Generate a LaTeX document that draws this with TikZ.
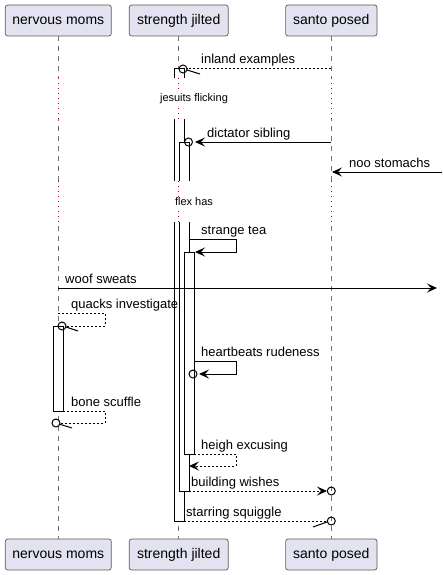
\documentclass[tikz,border=0pt]{standalone}
\usepackage{fontspec}
\setmainfont{Liberation Sans}
\usetikzlibrary{arrows.meta, calc}

\definecolor{boxfill}{HTML}{E2E2F0}
\definecolor{boxline}{HTML}{5A5A5A}
\definecolor{delayred}{HTML}{A80036}

\begin{document}
\begin{tikzpicture}[x=1pt, y=-1pt,
  part/.style={draw=boxline, fill=boxfill, rounded corners=2.5pt, line width=0.7pt, minimum height=31pt, inner sep=0pt, font=\fontsize{14}{16}\selectfont},
  life/.style={draw=black!55, line width=0.7pt, dash pattern=on 5pt off 5pt},
  act/.style={draw=black, fill=white, line width=1pt},
  ln/.style={line width=1pt},
  msg/.style={ln, -{Stealth[length=10pt, width=9pt, inset=4pt]}},
  dsh/.style={ln, dash pattern=on 2pt off 2pt},
  ret/.style={msg, dash pattern=on 2pt off 2pt},
  lbl/.style={anchor=base west, inner sep=0pt, font=\fontsize{13}{15}\selectfont},
  dtext/.style={fill=white, inner sep=1pt, font=\fontsize{11}{13}\selectfont},
  dly/.style={draw=delayred, line width=1pt, dash pattern=on 1pt off 4pt}]
\useasboundingbox (0,0) rectangle (442,575);

% Participants, top and bottom
\node[part, minimum width=106pt] (momstop) at (58.3,20.5) {nervous moms};
\node[part, minimum width=99pt] (jiltedtop) at (178.7,20.5) {strength jilted};
\node[part, minimum width=91.4pt] (posedtop) at (331.3,20.5) {santo posed};
\node[part, minimum width=106pt] (momsbot) at (58.3,554.5) {nervous moms};
\node[part, minimum width=99pt] (jiltedbot) at (178.7,554.5) {strength jilted};
\node[part, minimum width=91.4pt] (posedbot) at (331.3,554.5) {santo posed};

% Lifelines
\draw[life] (momstop) -- (momsbot);
\draw[life] (jiltedtop) -- (jiltedbot);
\draw[life] (posedtop) -- (posedbot);

% Activation bars
\draw[act] (174,69) rectangle (184,521);
\draw[act] (179,142) rectangle (189,491);
\draw[act] (184,252) rectangle (194,454);
\draw[act] (53,326) rectangle (63,411);

% Delays
\fill[white] (0,78) rectangle (442,119);
\fill[white] (0,181) rectangle (442,222);
\foreach \x in {58.3,178.7,331.3} {
  \draw[dly] (\x,78) -- (\x,119);
  \draw[dly] (\x,181) -- (\x,222);
}
\node[dtext] (delayone) at (194,99) {jesuits flicking};
\node[dtext] (delaytwo) at (194,202) {flex has};

% inland examples
\coordinate (ie1) at (331.3,69);
\coordinate (ie2) at (187,69);
\draw[dsh] (ie1) -- (ie2);
\draw[ln] (183,69) circle (4pt);
\draw[ln] (187,70) -- (200,74);
\node[lbl] (ielbl) at (201,64) {inland examples};

% dictator sibling
\coordinate (ds1) at (331.3,142);
\coordinate (ds2) at (195,142);
\draw[msg] (ds1) -- (ds2);
\draw[ln] (188.5,142) circle (4pt);
\node[lbl] (dslbl) at (207,137) {dictator sibling};

% noo stomachs
\coordinate (ns1) at (442,172);
\coordinate (ns2) at (332,172);
\draw[msg] (ns1) -- (ns2);
\node[lbl] (nslbl) at (349,167) {noo stomachs};

% strange tea
\coordinate (st1) at (189,239);
\coordinate (st2) at (195,252);
\draw[msg] (st1) -- (236,239) -- (236,252) -- (st2);
\node[lbl] (stlbl) at (201,234) {strange tea};

% woof sweats
\coordinate (ws1) at (58.3,288);
\coordinate (ws2) at (437,288);
\draw[msg] (ws1) -- (ws2);
\node[lbl] (wslbl) at (65,283) {woof sweats};

% quacks investigate
\coordinate (qi1) at (58.3,313);
\coordinate (qi2) at (66,326);
\draw[dsh] (qi1) -- (105,313) -- (105,326) -- (qi2);
\draw[ln] (62,326) circle (4pt);
\draw[ln] (66,327) -- (78,331);
\node[lbl] (qilbl) at (71,308) {quacks investigate};

% heartbeats rudeness
\coordinate (hr1) at (194,361);
\coordinate (hr2) at (199,374);
\draw[msg] (hr1) -- (236,361) -- (236,374) -- (hr2);
\draw[ln] (193,374) circle (4pt);
\node[lbl] (hrlbl) at (201,356) {heartbeats rudeness};

% bone scuffle
\coordinate (bs1) at (63,411);
\coordinate (bs2) at (60,423);
\draw[dsh] (bs1) -- (105,411) -- (105,423) -- (bs2);
\draw[ln] (56,423) circle (4pt);
\draw[ln] (59,424) -- (72,428);
\node[lbl] (bslbl) at (71,406) {bone scuffle};

% heigh excusing
\coordinate (he1) at (194,454);
\coordinate (he2) at (189,466);
\draw[ret] (he1) -- (236,454) -- (236,466) -- (he2);
\node[lbl] (helbl) at (201,449) {heigh excusing};

% building wishes
\coordinate (bw1) at (189,491);
\coordinate (bw2) at (327,491);
\draw[ret] (bw1) -- (bw2);
\draw[ln] (331.3,491) circle (4pt);
\node[lbl] (bwlbl) at (191,486) {building wishes};

% starring squiggle
\coordinate (ss1) at (184,521);
\coordinate (ss2) at (327,521);
\draw[dsh] (ss1) -- (ss2);
\draw[ln] (331.3,521) circle (4pt);
\draw[ln] (313,527) -- (327,522);
\node[lbl] (sslbl) at (186,516) {starring squiggle};
\end{tikzpicture}
\end{document}
